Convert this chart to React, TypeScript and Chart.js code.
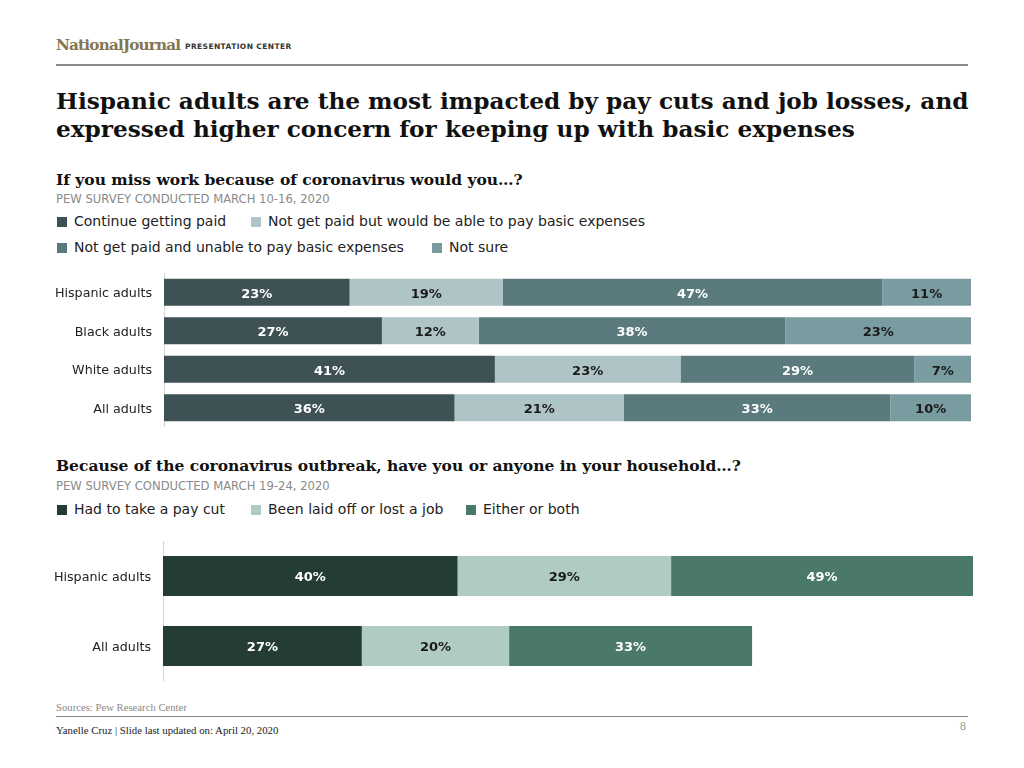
import React, { useEffect, useRef } from "react";
import { Chart, registerables } from "chart.js";

Chart.register(...registerables);

// ---- Data: chart 1 ----
const categories1 = ["Hispanic adults", "Black adults", "White adults", "All adults"];
const seriesNames1 = [
  "Continue getting paid",
  "Not get paid but would be able to pay basic expenses",
  "Not get paid and unable to pay basic expenses",
  "Not sure",
];
const continuePaid = [23, 27, 41, 36];
const notPaidAble = [19, 12, 23, 21];
const notPaidUnable = [47, 38, 29, 33];
const notSure = [11, 23, 7, 10];
const colors1 = ["#3e5256", "#aec4c6", "#5a7a7d", "#789ca0"];
const labelColors1 = ["#ffffff", "#1a1a1a", "#ffffff", "#1a1a1a"];

// ---- Data: chart 2 ----
const categories2 = ["Hispanic adults", "All adults"];
const seriesNames2 = ["Had to take a pay cut", "Been laid off or lost a job", "Either or both"];
const payCut = [40, 27];
const laidOff = [29, 20];
const eitherOrBoth = [49, 33];
const colors2 = ["#253b36", "#afcbc4", "#4a786a"];
const labelColors2 = ["#ffffff", "#1a1a1a", "#ffffff"];

const SANS = "'DejaVu Sans', Verdana, sans-serif";
const SERIF = "'DejaVu Serif', Georgia, serif";
const TIMES = "'Liberation Serif', 'Times New Roman', serif";

const barLabelPlugin = {
  id: "barLabels",
  afterDatasetsDraw(chart: any) {
    const ctx = chart.ctx;
    const area = chart.chartArea;
    ctx.save();
    ctx.font = `bold 13px ${SANS}`;
    ctx.textAlign = "center";
    ctx.textBaseline = "middle";
    chart.data.datasets.forEach((ds: any, i: number) => {
      const meta = chart.getDatasetMeta(i);
      meta.data.forEach((bar: any, j: number) => {
        const p = bar.getProps(["x", "y", "base"], true);
        const left = Math.max(Math.min(p.x, p.base), area.left);
        const right = Math.min(Math.max(p.x, p.base), area.right);
        ctx.fillStyle = ds.labelColor;
        ctx.fillText(`${ds.data[j]}%`, (left + right) / 2, p.y + 2);
      });
    });
    ctx.restore();
  },
};

function makeConfig(
  categories: string[],
  series: number[][],
  names: string[],
  colors: string[],
  labelColors: string[],
  max: number,
  barPct: number,
  axisWidth: number
): any {
  return {
    type: "bar",
    data: {
      labels: categories,
      datasets: series.map((d, i) => ({
        label: names[i],
        data: d,
        backgroundColor: colors[i],
        labelColor: labelColors[i],
        borderWidth: 0,
        barPercentage: barPct,
        categoryPercentage: 1,
      })),
    },
    options: {
      indexAxis: "y",
      responsive: false,
      maintainAspectRatio: false,
      animation: false,
      layout: { padding: 0, autoPadding: false },
      plugins: { legend: { display: false }, tooltip: { enabled: false } },
      scales: {
        x: { stacked: true, min: 0, max, display: false },
        y: {
          stacked: true,
          grid: { display: false, drawTicks: false },
          border: { display: true, color: "#d4d4d4", width: 1 },
          ticks: { color: "#222", font: { family: SANS, size: 12.7 }, padding: 12, labelOffset: 1.5 },
          afterFit: (s: any) => {
            s.width = axisWidth;
            s.paddingTop = 0;
            s.paddingBottom = 0;
          },
        },
      },
    },
    plugins: [barLabelPlugin],
  };
}

function BarChart(props: { config: any; left: number; top: number; width: number; height: number }) {
  const ref = useRef<HTMLCanvasElement | null>(null);
  useEffect(() => {
    if (!ref.current) return;
    const chart = new Chart(ref.current, props.config);
    return () => chart.destroy();
  }, []);
  return (
    <canvas
      ref={ref}
      width={props.width}
      height={props.height}
      style={{ position: "absolute", left: props.left, top: props.top, width: props.width, height: props.height }}
    />
  );
}

function Legend(props: { items: { name: string; color: string; x: number }[]; top: number }) {
  return (
    <>
      {props.items.map((it) => (
        <div
          key={it.name}
          style={{
            position: "absolute",
            left: it.x,
            top: props.top,
            height: 18,
            lineHeight: "18px",
            fontFamily: SANS,
            fontSize: 14,
            color: "#222",
            whiteSpace: "nowrap",
          }}
        >
          <span
            style={{
              display: "inline-block",
              width: 10,
              height: 10,
              background: it.color,
              marginRight: 7,
              verticalAlign: "-1px",
            }}
          />
          {it.name}
        </div>
      ))}
    </>
  );
}

const abs = (left: number, top: number, extra: any = {}) => ({
  position: "absolute" as const,
  left,
  top,
  whiteSpace: "nowrap" as const,
  ...extra,
});

export default function App() {
  const config1 = makeConfig(
    categories1,
    [continuePaid, notPaidAble, notPaidUnable, notSure],
    seriesNames1,
    colors1,
    labelColors1,
    100,
    0.7,
    164
  );
  const config2 = makeConfig(
    categories2,
    [payCut, laidOff, eitherOrBoth],
    seriesNames2,
    colors2,
    labelColors2,
    110,
    0.57,
    163
  );

  return (
    <div style={{ position: "absolute", left: 0, top: 0, width: 1024, height: 768, background: "#fff", overflow: "hidden" }}>
      {/* Header */}
      <div style={abs(56, 33, { fontFamily: SERIF, fontWeight: "bold", fontSize: 15.2, color: "#857650", letterSpacing: "-0.8px", lineHeight: "24px" })}>
        NationalJournal
      </div>
      <div style={abs(185, 42, { fontFamily: SANS, fontWeight: "bold", fontSize: 7.5, color: "#333", letterSpacing: "0.4px", lineHeight: "10px" })}>
        PRESENTATION CENTER
      </div>
      <div style={abs(56, 64, { width: 912, height: 2, background: "#8a8a8a" })} />

      {/* Title */}
      <div style={abs(56, 87, { fontFamily: SERIF, fontWeight: "bold", fontSize: 23.2, color: "#111", lineHeight: "28px" })}>
        Hispanic adults are the most impacted by pay cuts and job losses, and
        <br />
        expressed higher concern for keeping up with basic expenses
      </div>

      {/* Chart 1 header */}
      <div style={abs(56, 170, { fontFamily: SERIF, fontWeight: "bold", fontSize: 15.5, color: "#111", lineHeight: "20px" })}>
        If you miss work because of coronavirus would you…?
      </div>
      <div style={abs(56, 192, { fontFamily: SANS, fontSize: 11.6, color: "#8a8a8a", lineHeight: "15px" })}>
        PEW SURVEY CONDUCTED MARCH 10-16, 2020
      </div>
      <Legend
        top={212}
        items={[
          { name: seriesNames1[0], color: colors1[0], x: 57 },
          { name: seriesNames1[1], color: colors1[1], x: 251 },
        ]}
      />
      <Legend
        top={238}
        items={[
          { name: seriesNames1[2], color: colors1[2], x: 57 },
          { name: seriesNames1[3], color: colors1[3], x: 432 },
        ]}
      />
      <BarChart config={config1} left={0} top={273} width={971} height={154} />

      {/* Chart 2 header */}
      <div style={abs(56, 456, { fontFamily: SERIF, fontWeight: "bold", fontSize: 15.5, color: "#111", lineHeight: "20px" })}>
        Because of the coronavirus outbreak, have you or anyone in your household…?
      </div>
      <div style={abs(56, 479, { fontFamily: SANS, fontSize: 11.6, color: "#8a8a8a", lineHeight: "15px" })}>
        PEW SURVEY CONDUCTED MARCH 19-24, 2020
      </div>
      <Legend
        top={500}
        items={[
          { name: seriesNames2[0], color: colors2[0], x: 57 },
          { name: seriesNames2[1], color: colors2[1], x: 251 },
          { name: seriesNames2[2], color: colors2[2], x: 466 },
        ]}
      />
      <BarChart config={config2} left={0} top={541} width={973} height={140} />

      {/* Footer */}
      <div style={abs(56, 701, { fontFamily: TIMES, fontSize: 10.7, color: "#8a8a8a", lineHeight: "13px" })}>
        Sources: Pew Research Center
      </div>
      <div style={abs(56, 716, { width: 912, height: 1, background: "#8a8a8a" })} />
      <div style={abs(56, 724, { fontFamily: TIMES, fontSize: 10.8, color: "#222", lineHeight: "13px" })}>
        Yanelle Cruz | Slide last updated on: April 20, 2020
      </div>
      <div style={abs(960, 719, { fontFamily: TIMES, fontSize: 12, color: "#999", lineHeight: "14px" })}>8</div>
    </div>
  );
}
